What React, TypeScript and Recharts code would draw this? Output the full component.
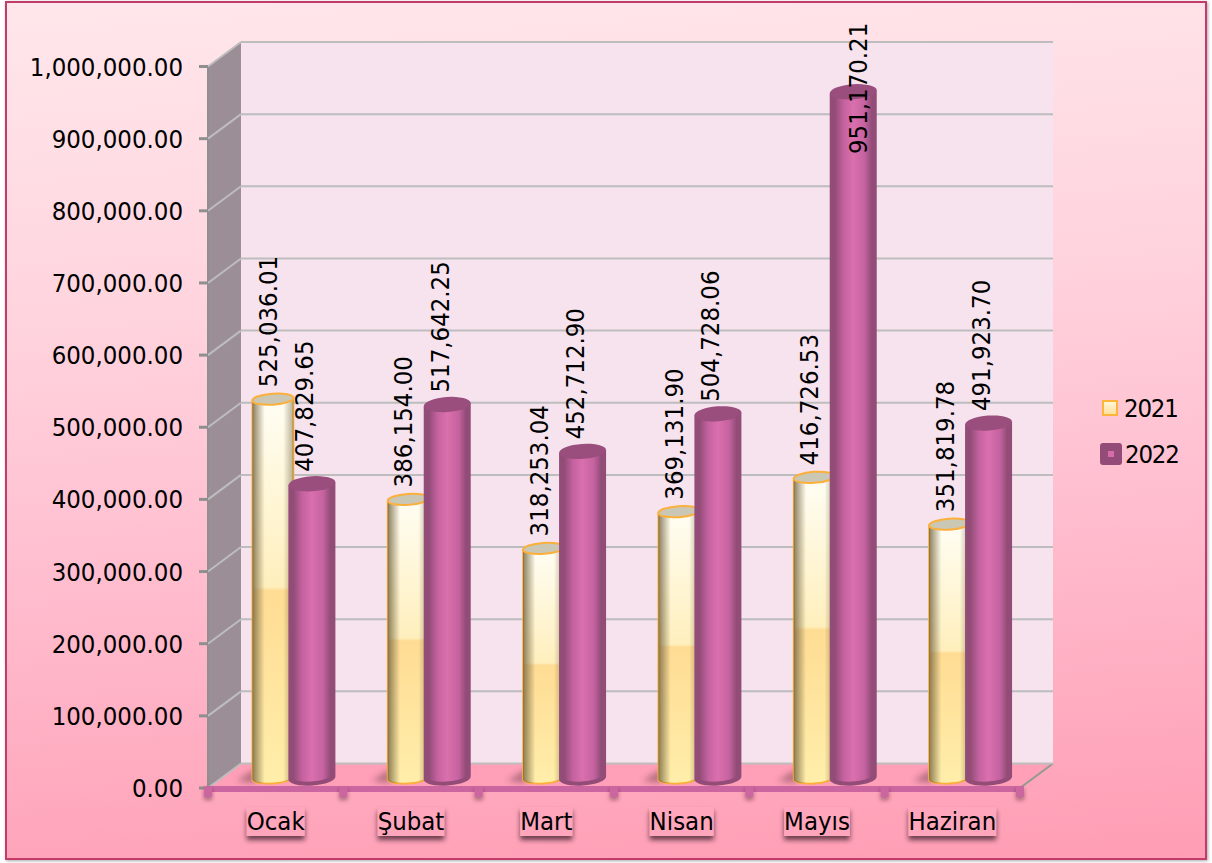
import React from 'react';
import { ComposedChart, Bar, XAxis, YAxis, CartesianGrid, Legend, LabelList } from 'recharts';

const months = ['Ocak', 'Şubat', 'Mart', 'Nisan', 'Mayıs', 'Haziran'];
const values2021 = [525036.01, 386154.0, 318253.04, 369131.9, 416726.53, 351819.78];
const values2022 = [407829.65, 517642.25, 452712.9, 504728.06, 951170.21, 491923.7];
const yTicks = [0, 100000, 200000, 300000, 400000, 500000, 600000, 700000, 800000, 900000, 1000000];
const rows = months.map((month, i) => ({ month, y2021: values2021[i], y2022: values2022[i] }));

const W = 1212, H = 863;
const LEFT = 208, RIGHT = 1020, TOP = 66.5, BOTTOM = 788;
const DX = 33, DY = 24.5;
const BAND = (RIGHT - LEFT) / months.length;
const BAR_DX = 16.4, BAR_DY = -10;
const FONT = '"DejaVu Sans", sans-serif';
const FS = 25.5;
const textStyle: React.CSSProperties = { fontFamily: FONT, fontSize: FS, fontStretch: 'condensed' };
const fmt = (v: number) => v.toLocaleString('en-US', { minimumFractionDigits: 2, maximumFractionDigits: 2 });

function measure(t: string) {
  const c = document.createElement('canvas').getContext('2d')!;
  c.font = `condensed ${FS}px "DejaVu Sans"`;
  return c.measureText(t).width;
}

function Scene() {
  return (
    <g>
      <defs>
        <linearGradient id="cream" x1="0" y1="0" x2="0" y2="1">
          <stop offset="0" stopColor="#FFFEF4" />
          <stop offset="0.49" stopColor="#FFEFBD" />
          <stop offset="0.5" stopColor="#FFDC94" />
          <stop offset="1" stopColor="#FFEEAA" />
        </linearGradient>
        <linearGradient id="creamEdge" x1="0" y1="0" x2="1" y2="0">
          <stop offset="0" stopColor="#6E5F3C" stopOpacity="0.8" />
          <stop offset="0.3" stopColor="#6E5F3C" stopOpacity="0" />
          <stop offset="0.75" stopColor="#6E5F3C" stopOpacity="0" />
          <stop offset="1" stopColor="#6E5F3C" stopOpacity="0.5" />
        </linearGradient>
        <linearGradient id="plum" x1="0" y1="0" x2="1" y2="0">
          <stop offset="0" stopColor="#8E4B74" />
          <stop offset="0.25" stopColor="#C562A0" />
          <stop offset="0.5" stopColor="#DA70AD" />
          <stop offset="0.8" stopColor="#C562A0" />
          <stop offset="1" stopColor="#8E4B74" />
        </linearGradient>
        <filter id="blur3" x="-50%" y="-50%" width="200%" height="200%">
          <feGaussianBlur stdDeviation="3" />
        </filter>
        <filter id="drop" x="-30%" y="-30%" width="160%" height="180%">
          <feDropShadow dx="0" dy="4" stdDeviation="2.5" floodColor="#3a1a28" floodOpacity="0.75" />
        </filter>
        <filter id="dropSmall" x="-100%" y="-100%" width="300%" height="300%">
          <feDropShadow dx="0" dy="3" stdDeviation="2" floodColor="#3a1a28" floodOpacity="0.45" />
        </filter>
      </defs>
      <rect x={LEFT + DX} y={TOP - DY} width={RIGHT - LEFT} height={BOTTOM - TOP} fill="#F6E3EE" />
      <polygon
        points={`${LEFT},${TOP} ${LEFT + DX},${TOP - DY} ${LEFT + DX},${BOTTOM - DY} ${LEFT},${BOTTOM}`}
        fill="#9C8E97"
      />
      <line x1={LEFT} y1={TOP} x2={LEFT} y2={BOTTOM} stroke="#8F8F8F" strokeWidth={2} />
      <polygon
        points={`${LEFT},${BOTTOM} ${LEFT + DX},${BOTTOM - DY} ${RIGHT + DX},${BOTTOM - DY} ${RIGHT},${BOTTOM}`}
        fill="#FF9FB8"
      />
      <line x1={RIGHT + DX} y1={BOTTOM - DY} x2={RIGHT} y2={BOTTOM} stroke="#8F9A90" strokeWidth={2} />
    </g>
  );
}

function SceneOnce(p: any) {
  return p.index === 0 ? <Scene /> : <g />;
}

function GridLine(p: any) {
  return (
    <g>
      <line x1={p.x1} y1={p.y1} x2={p.x1 + DX} y2={p.y1 - DY} stroke="#BDBDBD" strokeWidth={2} />
      <line x1={p.x1 + DX} y1={p.y1 - DY} x2={p.x2 + DX} y2={p.y1 - DY} stroke="#BDBDBD" strokeWidth={2} />
    </g>
  );
}

function Bar2021(p: any) {
  const cx = p.x + p.width / 2 + BAR_DX;
  const rx = 20.5, ry = 5.5, tilt = 1.4;
  const top = p.y + BAR_DY;
  const bot = p.y + p.height + BAR_DY;
  const left = cx - rx;
  const body = `M${left},${top + tilt} L${left},${bot + tilt} A${rx} ${ry} -4 0 0 ${cx + rx},${bot - tilt} L${cx + rx},${top - tilt} Z`;
  return (
    <g>
      <polygon points={`${left + 3},${bot - 9} ${left - 16},${bot + 3} ${left + 3},${bot + 5}`} fill="#5A323C" opacity={0.45} filter="url(#blur3)" />
      <path d={body} fill="url(#cream)" stroke="#FBB03B" strokeWidth={1.8} />
      <path d={body} fill="url(#creamEdge)" />
      <ellipse cx={cx} cy={top} rx={rx} ry={ry} transform={`rotate(-4 ${cx} ${top})`} fill="#CBC7B5" stroke="#FBB03B" strokeWidth={2} />
    </g>
  );
}

function Bar2022(p: any) {
  const cx = p.x + p.width / 2 + BAR_DX;
  const rx = 23.5, ry = 7.5, tilt = 1.6, inset = 4.5;
  const top = p.y + BAR_DY;
  const bot = p.y + p.height + BAR_DY;
  const outer = `M${cx - rx},${top + tilt} L${cx - rx},${bot + tilt} A${rx} ${ry} -4 0 0 ${cx + rx},${bot - tilt} L${cx + rx},${top - tilt} Z`;
  const irx = rx - inset;
  const inner = `M${cx - irx},${top} L${cx - irx},${bot - 1} A${irx} ${ry - 2} -4 0 0 ${cx + irx},${bot - 3} L${cx + irx},${top} Z`;
  return (
    <g>
      <path d={outer} fill="#934C78" />
      <path d={inner} fill="url(#plum)" />
      <ellipse cx={cx} cy={top} rx={rx} ry={ry} transform={`rotate(-4 ${cx} ${top})`} fill="#9A4E7D" />
    </g>
  );
}

function makeLabel(barCentreShift: number) {
  return function BarLabel(p: any) {
    const cx = p.x + p.width / 2 + BAR_DX + barCentreShift;
    const anchorY = p.y + BAR_DY - 12;
    const t = fmt(p.value);
    const len = 132;
    const clamped = anchorY - len < 22;
    const y = clamped ? 22 + len : anchorY;
    const x = clamped ? cx + 12 : cx;
    return (
      <text
        transform={`translate(${x + 8.5},${y}) rotate(-90)`}
        style={textStyle}
        fill="#000"
        textAnchor="start"
      >
        {t}
      </text>
    );
  };
}

function XTick(p: any) {
  const { x, payload, index } = p;
  const w = measure(payload.value);
  const boxY = 807;
  return (
    <g>
      <rect x={x - BAND / 2 - 4} y={BOTTOM - 2} width={8} height={11} fill="#CC66A0" filter="url(#dropSmall)" />
      {index === months.length - 1 && (
        <rect x={x + BAND / 2 - 4} y={BOTTOM - 2} width={8} height={11} fill="#CC66A0" filter="url(#dropSmall)" />
      )}
      <rect x={x - w / 2} y={boxY} width={w} height={29} fill="#FFA6BC" filter="url(#drop)" />
      <text x={x} y={830} textAnchor="middle" style={textStyle} fill="#000">
        {payload.value}
      </text>
    </g>
  );
}

function LegendBox() {
  const row: React.CSSProperties = { position: 'absolute', left: 0, display: 'flex', alignItems: 'center', ...textStyle, letterSpacing: -1.2, color: '#000', whiteSpace: 'nowrap' };
  return (
    <div style={{ position: 'relative', width: 100, height: 80 }}>
      <div style={{ ...row, top: 0, height: 30 }}>
        <span style={{ boxSizing: 'border-box', width: 16, height: 16, marginLeft: 2, marginRight: 6, border: '2px solid #FDB53A', background: 'linear-gradient(#FFF6D8,#FFE0A0)' }} />
        2021
      </div>
      <div style={{ ...row, top: 46, height: 30 }}>
        <span style={{ boxSizing: 'border-box', width: 22, height: 22, marginRight: 3, borderRadius: 3, background: '#934C78', display: 'flex', alignItems: 'center', justifyContent: 'center' }}>
          <span style={{ width: 6, height: 6, background: '#D86BAA' }} />
        </span>
        2022
      </div>
    </div>
  );
}

export default function App() {
  return (
    <div style={{ position: 'absolute', left: 0, top: 0, width: W, height: H, background: '#fff' }}>
      <div
        style={{
          position: 'absolute', left: 5, top: 1, width: 1202, height: 859, boxSizing: 'border-box',
          border: '2px solid #C23B6B', boxShadow: '1px 1px 3px rgba(0,0,0,0.35)',
          background: 'linear-gradient(176deg,#FFE7EB 0%,#FFD3DD 35%,#FFBFD0 60%,#FF9DB4 100%)',
        }}
      />
      <div style={{ position: 'absolute', left: 0, top: 0 }}>
        <ComposedChart
          width={W}
          height={H}
          data={rows}
          margin={{ left: 8, right: W - RIGHT, top: TOP, bottom: H - BOTTOM - 60 }}
          barCategoryGap={0}
          barGap={0}
          barSize={39}
        >
          <CartesianGrid vertical={false} horizontal={SceneOnce as any} syncWithTicks />
          <CartesianGrid vertical={false} horizontal={GridLine as any} syncWithTicks />
          <XAxis
            dataKey="month"
            height={60}
            axisLine={{ stroke: '#CC66A0', strokeWidth: 6, transform: 'translate(0,1)' } as any}
            tickLine={false}
            tick={XTick as any}
            interval={0}
          />
          <YAxis
            width={200}
            domain={[0, 1000000]}
            ticks={yTicks}
            interval={0}
            tickFormatter={fmt}
            axisLine={false}
            tickLine={{ stroke: '#8F8F8F', strokeWidth: 3 }}
            tickSize={9}
            tickMargin={16}
            tick={{ fill: '#000', style: textStyle } as any}
          />
          <Legend
            layout="horizontal"
            verticalAlign="middle"
            align="center"
            content={LegendBox as any}
            wrapperStyle={{ position: 'absolute', left: 1100, top: 393, width: 100, height: 80 }}
          />
          <Bar dataKey="y2021" name="2021" shape={Bar2021 as any} isAnimationActive={false}>
            <LabelList dataKey="y2021" content={makeLabel(-4.5) as any} />
          </Bar>
          <Bar dataKey="y2022" name="2022" shape={Bar2022 as any} isAnimationActive={false}>
            <LabelList dataKey="y2022" content={makeLabel(-7) as any} />
          </Bar>
        </ComposedChart>
      </div>
    </div>
  );
}
